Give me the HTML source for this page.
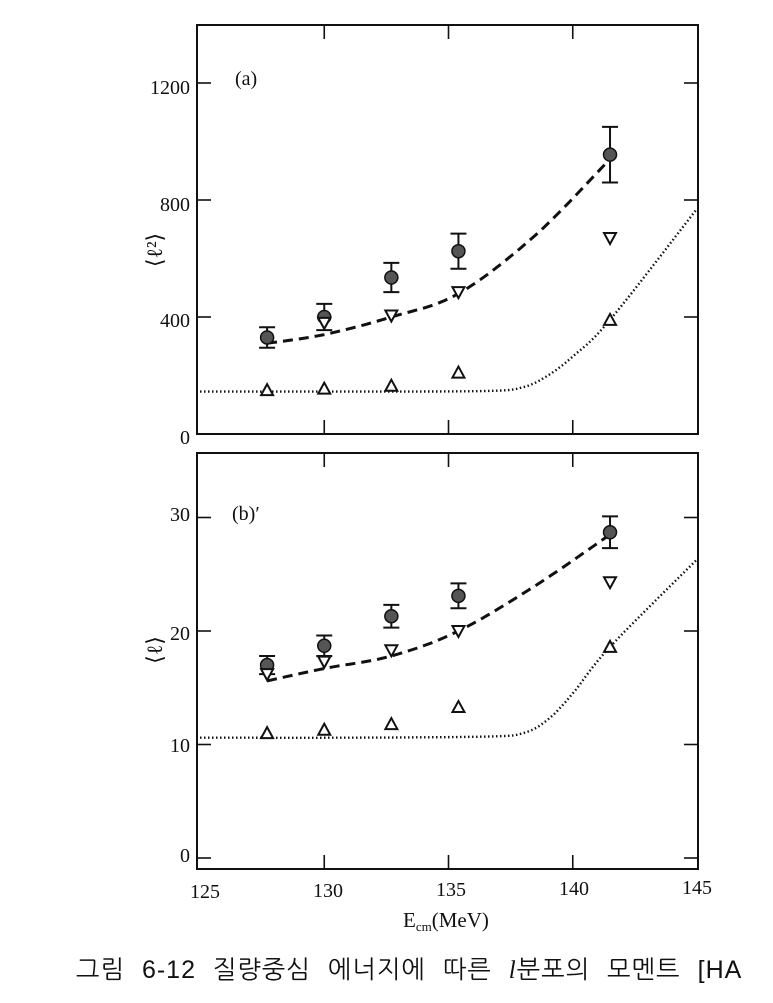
<!DOCTYPE html>
<html><head><meta charset="utf-8"><style>
html,body{margin:0;padding:0;background:#fff;}
svg{display:block;}
text{font-family:"Liberation Serif",serif;fill:#111;}
</style></head><body>
<svg id="s" width="773" height="1003" viewBox="0 0 773 1003" xmlns="http://www.w3.org/2000/svg">
<rect width="773" height="1003" fill="#fff"/>
<g id="g" stroke="#111" fill="none"></g>
<text x="235" y="85" font-size="20">(a)</text>
<text x="232" y="520" font-size="20">(b)′</text>
<g font-size="20" text-anchor="end">
<text x="190" y="94">1200</text><text x="190" y="211">800</text><text x="190" y="327">400</text><text x="190" y="444">0</text>
<text x="190" y="521">30</text><text x="190" y="640">20</text><text x="190" y="752">10</text><text x="190" y="862">0</text>
</g>
<g font-size="20" text-anchor="middle">
<text x="205" y="898">125</text><text x="328" y="897">130</text><text x="451" y="896">135</text><text x="574" y="895">140</text><text x="697" y="894">145</text>
</g>
<text x="403" y="927" font-size="21">E<tspan font-size="13" dy="4">cm</tspan><tspan dy="-4">(MeV)</tspan></text>
<text transform="translate(162,250) rotate(-90)" font-size="22" text-anchor="middle">⟨ℓ²⟩</text>
<text transform="translate(162,650) rotate(-90)" font-size="22" text-anchor="middle">⟨ℓ⟩</text>
<text x="76" y="978" font-size="25" letter-spacing="1" word-spacing="9" style="font-family:'Liberation Sans','NanumGothic','Noto Sans CJK KR',sans-serif">그림 6-12 질량중심 에너지에 따른 <tspan font-style="italic" style="font-family:'Liberation Serif',serif">l</tspan>분포의 모멘트 [HA</text>
</svg>
<script>
var g=document.getElementById('g'),NS='http://www.w3.org/2000/svg';
function el(t,a){var e=document.createElementNS(NS,t);for(var k in a)e.setAttribute(k,a[k]);g.appendChild(e);return e;}
function X(e){return 200+(e-125)*24.85;}
function cr(P){var r=[];for(var i=0;i<P.length-1;i++){var p0=P[Math.max(i-1,0)],p1=P[i],p2=P[i+1],p3=P[Math.min(i+2,P.length-1)];
 for(var s=0;s<10;s++){var t=s/10,t2=t*t,t3=t2*t;
 var f=function(a,b,c,d){return 0.5*(2*b+(-a+c)*t+(2*a-5*b+4*c-d)*t2+(-a+3*b-3*c+d)*t3);};
 r.push([f(p0[0],p1[0],p2[0],p3[0]),f(p0[1],p1[1],p2[1],p3[1])]);}}
 r.push(P[P.length-1]);return r;}
function panel(top,bot,y0,ppu,ticks,c,dt,ut,dash,dot){
 var Y=function(v){return y0-v*ppu;};
 el('rect',{x:197,y:top,width:501,height:bot-top,'stroke-width':2});
 ticks.forEach(function(t){el('line',{x1:197,x2:211,y1:Y(t),y2:Y(t),'stroke-width':1.6});el('line',{x1:684,x2:698,y1:Y(t),y2:Y(t),'stroke-width':1.6});});
 [130,135,140].forEach(function(e){el('line',{x1:X(e),x2:X(e),y1:top,y2:top+14,'stroke-width':1.6});el('line',{x1:X(e),x2:X(e),y1:bot,y2:bot-14,'stroke-width':1.6});});
 function curve(pts,attrs){var d='';pts.forEach(function(p,i){d+=(i?'L':'M')+X(p[0]).toFixed(1)+','+Y(p[1]).toFixed(1);});attrs.d=d;el('path',attrs);}
 curve(cr(dash),{'stroke-width':3,'stroke-dasharray':'10,6'});
 curve(cr(dot),{'stroke-width':2.4,'stroke-dasharray':'1.5,2.5'});
 var E=[127.7,130,132.7,135.4,141.5];
 c.forEach(function(p,i){var x=X(E[i]);el('line',{x1:x,x2:x,y1:Y(p[0]+p[1]),y2:Y(p[0]-p[1]),'stroke-width':2});
  el('line',{x1:x-8,x2:x+8,y1:Y(p[0]+p[1]),y2:Y(p[0]+p[1]),'stroke-width':2});el('line',{x1:x-8,x2:x+8,y1:Y(p[0]-p[1]),y2:Y(p[0]-p[1]),'stroke-width':2});
  el('circle',{cx:x,cy:Y(p[0]),r:6.5,fill:'#555','stroke-width':1.5});});
 dt.forEach(function(v,i){if(v==null)return;var x=X(E[i]),y=Y(v);el('path',{d:'M'+(x-6)+','+(y-5)+'L'+(x+6)+','+(y-5)+'L'+x+','+(y+6)+'Z','stroke-width':2,fill:'#fff'});});
 ut.forEach(function(v,i){var x=X(E[i]),y=Y(v);el('path',{d:'M'+(x-6)+','+(y+5)+'L'+(x+6)+','+(y+5)+'L'+x+','+(y-6)+'Z','stroke-width':2,fill:'#fff'});});
}
panel(25,434,434,0.2925,[0,400,800,1200],[[330,35],[400,45],[535,50],[625,60],[955,95]],[null,380,405,485,670],[150,155,165,210,390],
 [[127.7,310],[130,340],[132.7,400],[135.4,480],[138.5,680],[141.5,940]],
 [[125,145],[131,145],[136.5,147],[138,160],[139,200],[140,265],[141.5,390],[145,770]]);
panel(453,869,858,11.35,[0,10,20,30],[[17,0.8],[18.7,0.9],[21.3,1.0],[23.1,1.1],[28.7,1.4]],[16.2,17.3,18.3,20,24.3],[11,11.3,11.8,13.3,18.6],
 [[127.7,15.6],[130,16.7],[132.7,17.8],[135.4,20],[138.5,24],[141.5,28.5]],
 [[125,10.6],[131,10.6],[136.5,10.7],[138,11],[139,12.2],[140,14.5],[141.5,18.6],[145,26.3]]);
</script>
</body></html>
